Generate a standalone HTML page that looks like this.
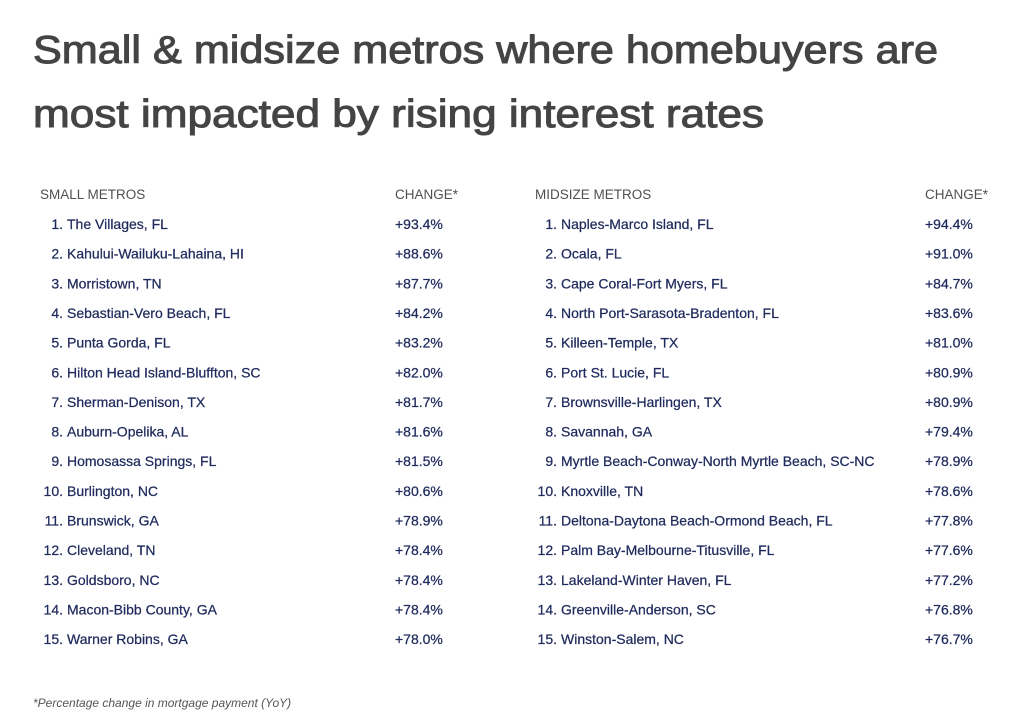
<!DOCTYPE html>
<html><head><meta charset="utf-8"><style>
html,body{margin:0;padding:0;background:#fff;}
svg{display:block;font-family:"Liberation Sans",Arial,sans-serif;}
.h{fill:#505050;font-size:13.5px;}
.r{fill:#1f2a5c;font-size:14px;stroke:#1f2a5c;stroke-width:0.25px;}
.t{fill:#444;font-size:39px;stroke:#444;stroke-width:1px;}
</style></head><body>
<svg width="1024" height="715" viewBox="0 0 1024 715">
<text class="t" x="33" y="63" textLength="905" lengthAdjust="spacingAndGlyphs">Small &amp; midsize metros where homebuyers are</text>
<text class="t" x="33" y="127" textLength="731" lengthAdjust="spacingAndGlyphs">most impacted by rising interest rates</text>
<text class="h" x="40" y="199">SMALL METROS</text>
<text class="h" x="395" y="199">CHANGE*</text>
<text class="h" x="535" y="199">MIDSIZE METROS</text>
<text class="h" x="925" y="199">CHANGE*</text>
<g class="r" id="rows"></g>
<text x="33" y="707" style="fill:#555;font-size:12px;font-style:italic">*Percentage change in mortgage payment (YoY)</text>
</svg>
<script>
var s=[["The Villages, FL","+93.4%"],["Kahului-Wailuku-Lahaina, HI","+88.6%"],["Morristown, TN","+87.7%"],["Sebastian-Vero Beach, FL","+84.2%"],["Punta Gorda, FL","+83.2%"],["Hilton Head Island-Bluffton, SC","+82.0%"],["Sherman-Denison, TX","+81.7%"],["Auburn-Opelika, AL","+81.6%"],["Homosassa Springs, FL","+81.5%"],["Burlington, NC","+80.6%"],["Brunswick, GA","+78.9%"],["Cleveland, TN","+78.4%"],["Goldsboro, NC","+78.4%"],["Macon-Bibb County, GA","+78.4%"],["Warner Robins, GA","+78.0%"]];
var m=[["Naples-Marco Island, FL","+94.4%"],["Ocala, FL","+91.0%"],["Cape Coral-Fort Myers, FL","+84.7%"],["North Port-Sarasota-Bradenton, FL","+83.6%"],["Killeen-Temple, TX","+81.0%"],["Port St. Lucie, FL","+80.9%"],["Brownsville-Harlingen, TX","+80.9%"],["Savannah, GA","+79.4%"],["Myrtle Beach-Conway-North Myrtle Beach, SC-NC","+78.9%"],["Knoxville, TN","+78.6%"],["Deltona-Daytona Beach-Ormond Beach, FL","+77.8%"],["Palm Bay-Melbourne-Titusville, FL","+77.6%"],["Lakeland-Winter Haven, FL","+77.2%"],["Greenville-Anderson, SC","+76.8%"],["Winston-Salem, NC","+76.7%"]];
var g=document.getElementById('rows'),h='';
function e(t){return t.replace(/&/g,'&amp;');}
for(var i=0;i<15;i++){var y=(229+i*29.65).toFixed(1);
h+='<text x="63" y="'+y+'" text-anchor="end">'+(i+1)+'.</text><text x="67" y="'+y+'">'+e(s[i][0])+'</text><text x="395" y="'+y+'">'+s[i][1]+'</text>';
h+='<text x="557" y="'+y+'" text-anchor="end">'+(i+1)+'.</text><text x="561" y="'+y+'">'+e(m[i][0])+'</text><text x="925" y="'+y+'">'+m[i][1]+'</text>';}
g.innerHTML=h;
</script>
</body></html>
